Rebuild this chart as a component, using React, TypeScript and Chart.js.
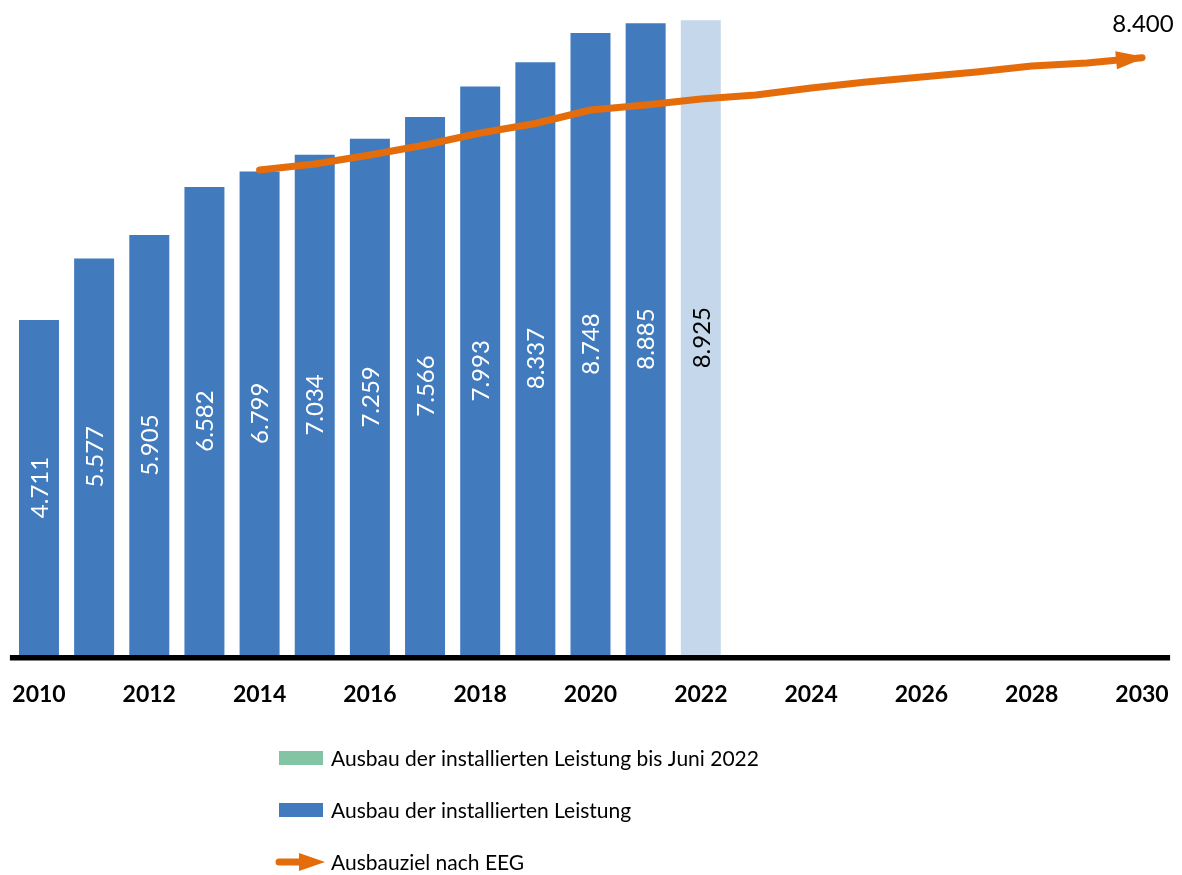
import React, { useEffect, useRef } from "react";
import { Chart, registerables } from "chart.js";

Chart.register(...registerables);

const years = ["2010","2011","2012","2013","2014","2015","2016","2017","2018","2019","2020","2021","2022","2023","2024","2025","2026","2027","2028","2029","2030"];
const installedCapacity = [4711, 5577, 5905, 6582, 6799, 7034, 7259, 7566, 7993, 8337, 8748, 8885, null, null, null, null, null, null, null, null, null];
const installedUntilJune2022 = [null, null, null, null, null, null, null, null, null, null, null, null, 8925, null, null, null, null, null, null, null, null];
const eegTarget = [null, null, null, null, 6820, 6905, 7031, 7172, 7341, 7474, 7664, 7735, 7819, 7875, 7974, 8058, 8129, 8199, 8283, 8325, 8400];
const legendLabels = ["Ausbau der installierten Leistung bis Juni 2022", "Ausbau der installierten Leistung", "Ausbauziel nach EEG"];

const BLUE = "#417BBE";
const LIGHT = "#C5D8EB";
const GREEN = "#82C4A4";
const ORANGE = "#E46C0A";
const FONT = "Lato";

function fmt(v: number): string {
  const th = Math.floor(v / 1000);
  const rest = String(v % 1000).padStart(3, "0");
  return th > 0 ? th + "." + rest : String(v);
}

const customPlugin = {
  id: "custom",
  afterDatasetsDraw(chart: any) {
    const ctx = chart.ctx;
    const area = chart.chartArea;
    // bar value labels
    [0, 1].forEach((di) => {
      const meta = chart.getDatasetMeta(di);
      const data = chart.data.datasets[di].data;
      meta.data.forEach((el: any, i: number) => {
        const v = data[i];
        if (v == null) return;
        const cy = (el.y + el.base) / 2;
        ctx.save();
        ctx.translate(el.x, cy);
        ctx.rotate(-Math.PI / 2);
        ctx.fillStyle = di === 0 ? "#ffffff" : "#000000";
        ctx.font = `24px ${FONT}`;
        ctx.textAlign = "center";
        ctx.textBaseline = "middle";
        ctx.fillText(fmt(v), 0, 1);
        ctx.restore();
      });
    });
    // arrow head on target line
    const lm = chart.getDatasetMeta(2);
    const pts = lm.data;
    const last = pts[pts.length - 1];
    const prev = pts[pts.length - 2];
    const ang = Math.atan2(last.y - prev.y, last.x - prev.x);
    ctx.save();
    ctx.translate(last.x, last.y);
    ctx.rotate(ang);
    ctx.fillStyle = ORANGE;
    ctx.beginPath();
    ctx.moveTo(4, 0);
    ctx.lineTo(-26, -9);
    ctx.lineTo(-26, 9);
    ctx.closePath();
    ctx.fill();
    ctx.restore();
    // end label
    ctx.save();
    ctx.fillStyle = "#000";
    ctx.font = `24px ${FONT}`;
    ctx.textAlign = "center";
    ctx.textBaseline = "middle";
    ctx.fillText(fmt(eegTarget[eegTarget.length - 1] as number), last.x + 1, 24);
    ctx.restore();
    // axis line
    ctx.save();
    ctx.fillStyle = "#000";
    ctx.fillRect(area.left - 1.5, area.bottom, area.right - area.left + 2, 5.5);
    ctx.restore();
  },
  afterDraw(chart: any) {
    const ctx = chart.ctx;
    ctx.save();
    ctx.font = `21px ${FONT}`;
    ctx.textBaseline = "middle";
    ctx.fillStyle = "#000";
    const tx = 331;
    const rows = [758, 810, 862];
    ctx.fillStyle = GREEN;
    ctx.fillRect(279, 751, 44, 14);
    ctx.fillStyle = BLUE;
    ctx.fillRect(279, 803, 44, 14);
    ctx.strokeStyle = ORANGE;
    ctx.lineWidth = 7;
    ctx.lineCap = "round";
    ctx.beginPath();
    ctx.moveTo(279, rows[2]);
    ctx.lineTo(304, rows[2]);
    ctx.stroke();
    ctx.fillStyle = ORANGE;
    ctx.beginPath();
    ctx.moveTo(325, rows[2]);
    ctx.lineTo(299, rows[2] - 9);
    ctx.lineTo(299, rows[2] + 9);
    ctx.closePath();
    ctx.fill();
    ctx.fillStyle = "#000";
    legendLabels.forEach((t, i) => ctx.fillText(t, tx, rows[i] + 1));
    ctx.restore();
  },
};

export default function App() {
  const ref = useRef<HTMLCanvasElement>(null);
  useEffect(() => {
    document.body.style.margin = "0";
    const chart = new Chart(ref.current as HTMLCanvasElement, {
      type: "bar",
      data: {
        labels: years,
        datasets: [
          {
            type: "bar",
            label: legendLabels[1],
            data: installedCapacity,
            backgroundColor: BLUE,
            grouped: false,
            barPercentage: 0.725,
            categoryPercentage: 1,
            order: 2,
          } as any,
          {
            type: "bar",
            label: legendLabels[0],
            data: installedUntilJune2022,
            backgroundColor: LIGHT,
            grouped: false,
            barPercentage: 0.725,
            categoryPercentage: 1,
            order: 1,
          } as any,
          {
            type: "line",
            label: legendLabels[2],
            data: eegTarget,
            borderColor: ORANGE,
            borderWidth: 7,
            borderCapStyle: "round",
            borderJoinStyle: "round",
            pointRadius: 0,
            tension: 0,
            fill: false,
            order: 0,
          } as any,
        ],
      },
      options: {
        responsive: false,
        animation: false,
        layout: { padding: { left: 11.4, right: 12.4, top: 15, bottom: 0 } },
        plugins: { legend: { display: false }, tooltip: { enabled: false } },
        scales: {
          y: { display: false, min: 0, max: 9000 },
          x: {
            grid: { display: false, drawTicks: false },
            border: { display: false },
            afterFit: (s: any) => {
              s.height = 220;
              s.paddingLeft = 0;
              s.paddingRight = 0;
            },
            ticks: {
              autoSkip: false,
              maxRotation: 0,
              padding: 26,
              color: "#000",
              font: { family: FONT, size: 23, weight: "bold" },
              callback: (_v: any, i: number) => (i % 2 === 0 ? years[i] : ""),
            },
          },
        },
      },
      plugins: [customPlugin],
    });
    return () => chart.destroy();
  }, []);
  return (
    <div style={{ position: "absolute", left: 0, top: 0, width: 1182, height: 875, background: "#fff" }}>
      <canvas ref={ref} width={1182} height={875} />
    </div>
  );
}
